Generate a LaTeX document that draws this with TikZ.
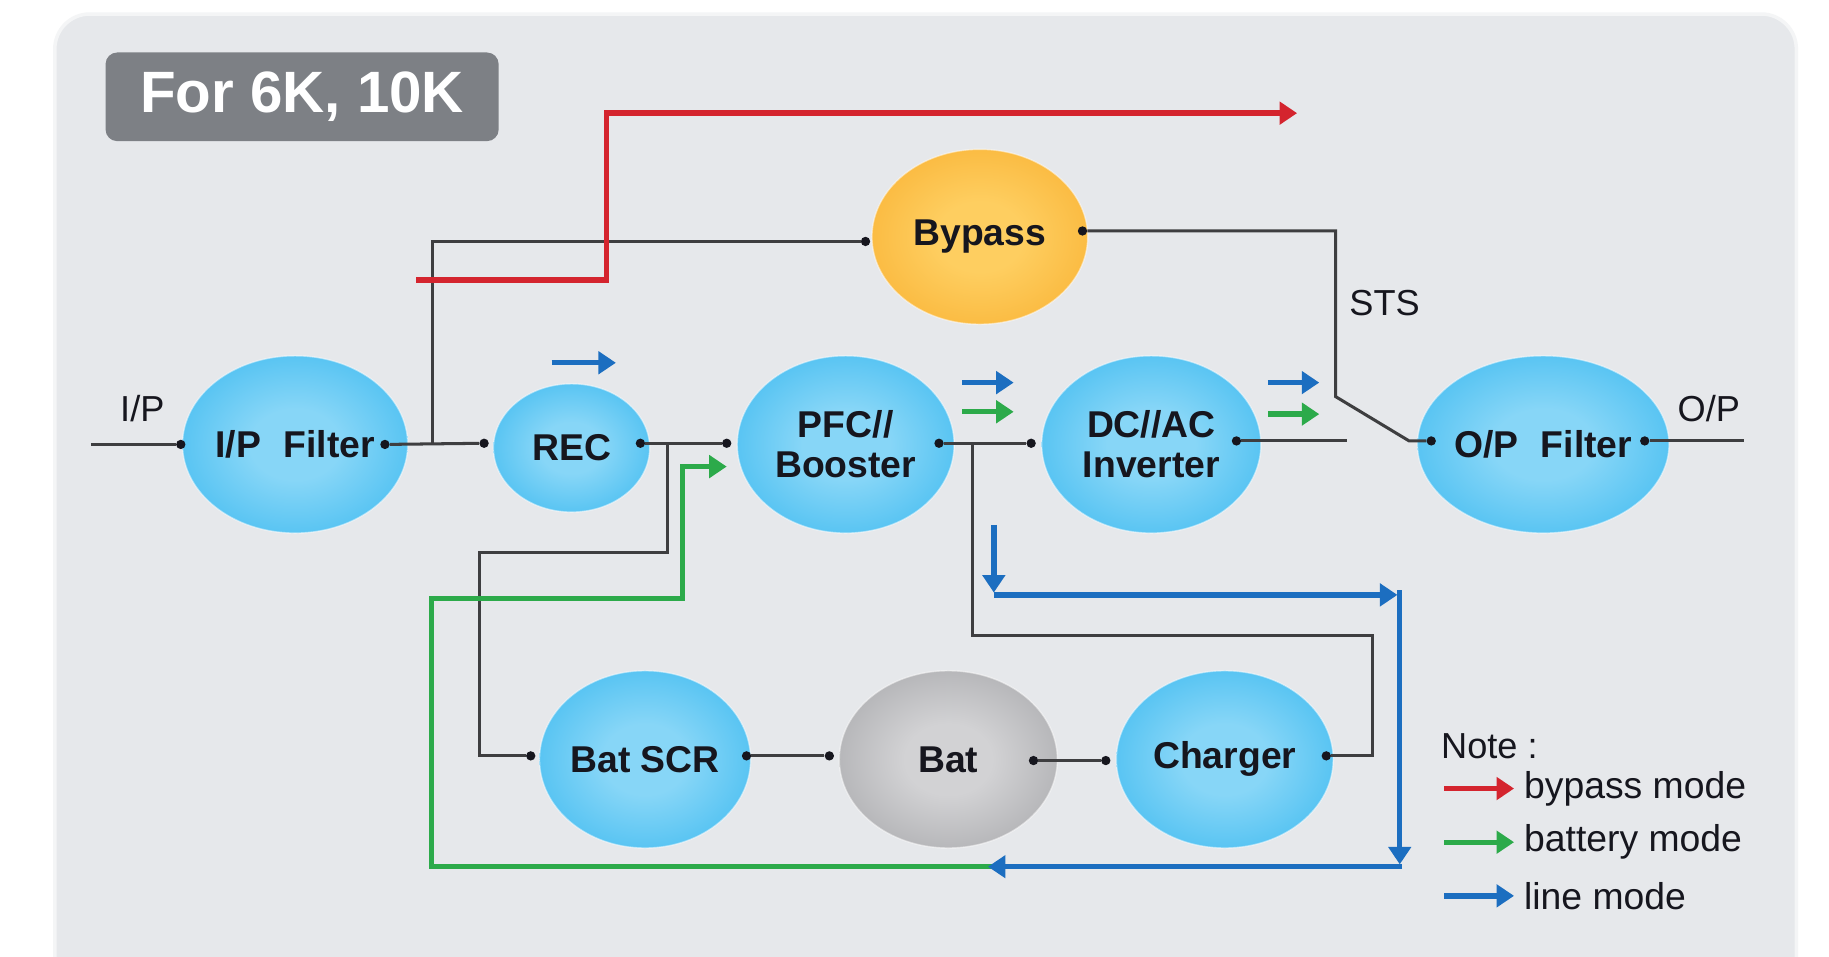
\documentclass[tikz,border=0pt]{standalone}
\usepackage{fontspec}
\setmainfont{Liberation Sans}
\usetikzlibrary{shapes.geometric,arrows.meta}

\definecolor{panel}{RGB}{230,232,235}
\definecolor{taggray}{RGB}{125,128,133}
\definecolor{wiregray}{RGB}{62,62,64}
\definecolor{ink}{RGB}{22,22,30}
\definecolor{bypassred}{RGB}{212,36,46}
\definecolor{battgreen}{RGB}{44,170,74}
\definecolor{lineblue}{RGB}{28,110,192}
\definecolor{bluein}{RGB}{135,214,247}
\definecolor{bluemid}{RGB}{62,186,240}
\definecolor{blueout}{RGB}{10,160,228}
\definecolor{orangein}{RGB}{254,206,96}
\definecolor{orangeout}{RGB}{245,158,20}
\definecolor{grayin}{RGB}{210,210,212}
\definecolor{grayout}{RGB}{138,139,143}

\pgfdeclareradialshading{blueball}{\pgfpoint{0bp}{0bp}}{color(0bp)=(bluein); color(10bp)=(bluein); color(34bp)=(bluemid); color(50bp)=(blueout)}
\pgfdeclareradialshading{orangeball}{\pgfpoint{0bp}{0bp}}{color(0bp)=(orangein); color(10bp)=(orangein); color(50bp)=(orangeout)}
\pgfdeclareradialshading{grayball}{\pgfpoint{0bp}{0bp}}{color(0bp)=(grayin); color(10bp)=(grayin); color(50bp)=(grayout)}

\tikzset{
  block/.style={ellipse, inner sep=0pt, draw=white, draw opacity=0.5, line width=1.2pt,
    text=ink, align=center, font=\bfseries\fontsize{32}{34}\selectfont},
  dot/.style={circle, fill=ink, inner sep=0pt, minimum size=8pt},
  wire/.style={draw=wiregray, line width=2.6pt},
  modeline/.style={draw=#1, line width=4.6pt, -{Triangle[length=15pt,width=19pt,fill=#1]}},
  lbl/.style={text=ink, font=\fontsize{31}{36}\selectfont},
  tagbox/.style={fill=taggray, rounded corners=10pt, minimum width=337pt, minimum height=76pt,
    text=white, font=\bfseries\fontsize{50}{54}\selectfont}
}

\begin{document}
\begin{tikzpicture}[x=1pt, y=-1pt]
  \useasboundingbox (0,0) rectangle (1568,820);
  \clip (0,0) rectangle (1568,820);
  \fill[white] (0,0) rectangle (1568,820);
  \filldraw[fill=panel, draw=white!55!panel, line width=3pt, rounded corners=30pt] (47,12) rectangle (1540,860);

  \node[tagbox] (title) at (259,83) {For 6K, 10K};

  \def \Blocks {
    ipf/253/381/187/152/blueball/{I/P\hspace{0.6em}Filter},
    rec/490/384/134/110/blueball/{REC},
    pfc/725/381/186/152/blueball/{PFC//\\Booster},
    inv/987/381/188/152/blueball/{DC//AC\\Inverter},
    opf/1323/381/189/152/blueball/{O/P\hspace{0.6em}Filter},
    byp/840/203/185/150/orangeball/{Bypass},
    scr/553/651/180/152/blueball/{Bat SCR},
    bat/813/651/187/152/grayball/{Bat},
    chg/1050/651/186/152/blueball/{Charger}}
  \def \Dots {
    ipf-l/155/381, ipf-r/330/381, rec-l/415/380, rec-r/549/380,
    pfc-l/623/380, pfc-r/805/380, inv-l/884/380, inv-r/1060/378,
    opf-l/1227/378, opf-r/1410/378, byp-l/742/207, byp-r/928/198,
    scr-l/455/648, scr-r/640/648, bat-l/711/648, bat-r/886/652,
    chg-l/948/652, chg-r/1137/648}

  \foreach \id / \x / \y / \w / \h / \shade / \txt in \Blocks {
    \node[block, shading=\shade, minimum width=\w pt, minimum height=\h pt] (\id) at (\x, \y) {\txt};
  }
  \foreach \id / \x / \y in \Dots {
    \node[dot] (\id) at (\x, \y) {};
  }

  % free ends and branch points
  \coordinate (ip) at (78,381);
  \coordinate (op) at (1495,378);
  \coordinate (inv-out) at (1155,378);
  \coordinate (j1) at (371,381);
  \coordinate (j2) at (572,380);
  \coordinate (j3) at (834,380);
  \coordinate (sts) at (1145,340);
  \coordinate (sts-b) at (1208,378);

  \draw[wire] (ip) -- (ipf-l);
  \draw[wire] (ipf-r) -- (rec-l);
  \draw[wire] (j1) |- (byp-l);
  \draw[wire] (rec-r) -- (pfc-l);
  \draw[wire] (j2) |- (411,474) |- (scr-l);
  \draw[wire] (pfc-r) -- (inv-l);
  \draw[wire] (j3) |- (1177,545) |- (chg-r);
  \draw[wire] (inv-r) -- (inv-out);
  \draw[wire] (byp-r) -| (sts) -- (sts-b) -- (opf-l);
  \draw[wire] (opf-r) -- (op);
  \draw[wire] (scr-r) -- (bat-l);
  \draw[wire] (bat-r) -- (chg-l);

  \node[lbl] (ip-lbl) at (122,350) {I/P};
  \node[lbl] (op-lbl) at (1465,350) {O/P};
  \node[lbl] (sts-lbl) at (1187,260) {STS};

  % bypass mode
  \coordinate (r-in) at (357,240);
  \coordinate (r-out) at (1112,97);
  \draw[modeline=bypassred] (r-in) -| (520,97) -- (r-out);

  % battery mode
  \coordinate (g-in) at (862,743);
  \coordinate (g-out) at (623,400);
  \draw[modeline=battgreen] (g-in) -| (370,513) -| (585,400) -- (g-out);

  % line mode
  \coordinate (b-top) at (852,450);
  \coordinate (b-mid) at (852,510);
  \coordinate (b-rt) at (1200,506);
  \coordinate (b-bot) at (1200,743);
  \coordinate (b-end) at (847,743);
  \draw[modeline=lineblue] (b-top) -- (852,508);
  \draw[modeline=lineblue] (b-mid) -- (1198,510);
  \draw[modeline=lineblue] (b-rt) -- (1200,741);
  \draw[modeline=lineblue] ([xshift=2pt]b-bot) -- (b-end);

  \foreach \x / \y / \l / \c in {473/311/55/lineblue, 825/328/44/lineblue, 825/353/44/battgreen,
                                 1087/328/44/lineblue, 1087/355/44/battgreen} {
    \draw[modeline=\c] (\x,\y) -- ++(\l,0);
  }

  % legend
  \node[lbl, anchor=west] (note) at (1232,640) {Note :};
  \foreach \c / \t / \y in {bypassred/bypass mode/676, battgreen/battery mode/722, lineblue/line mode/768} {
    \draw[modeline=\c] (1238,\y) -- (1298,\y) node[lbl, anchor=west, font=\fontsize{32}{36}\selectfont, xshift=3pt] (leg-\c) {\t};
  }
\end{tikzpicture}
\end{document}
